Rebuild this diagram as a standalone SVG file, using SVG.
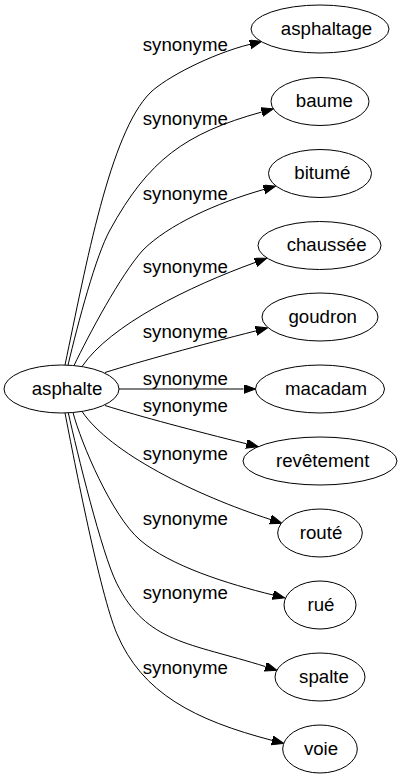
<svg xmlns="http://www.w3.org/2000/svg" width="402" height="779" viewBox="0 0 402 779">
<style>
  .node ellipse { fill: #ffffff; stroke: #000000; stroke-width: 1; }
  .node text { font-family: "Liberation Sans", Arial, sans-serif; font-size: 18.67px; fill: #000000; text-anchor: middle; }
  .edge path { fill: none; stroke: #000000; stroke-width: 1; marker-end: url(#arrow); }
  .edge text { font-family: "Liberation Sans", Arial, sans-serif; font-size: 18.67px; fill: #000000; text-anchor: middle; }
</style>
<defs>
  <marker id="arrow" markerUnits="userSpaceOnUse" markerWidth="13" markerHeight="10" refX="0" refY="4.5" orient="auto">
    <path d="M0,0 L12,4.5 L0,9 Z" fill="#000000" stroke="#000000" stroke-width="1"/>
  </marker>
</defs>
<rect x="0" y="0" width="402" height="779" fill="#ffffff"/>
<g id="connectors">
  <g class="edge" id="e-asphaltage">
    <path d="M65,365 C86,265 110,133 150,93 C165,78 211,54 250,44.3"/>
    <text x="185.3" y="50.5">synonyme</text>
  </g>
  <g class="edge" id="e-baume">
    <path d="M68,365.2 C78,323 96,255 110,230 C148.5,160 184.7,133.4 261.7,112"/>
    <text x="185.3" y="124.5">synonyme</text>
  </g>
  <g class="edge" id="e-bitume">
    <path d="M74,365.5 C88.7,335 120.5,275 143,250 C168,225 216,203 264,189.4"/>
    <text x="185.3" y="199.5">synonyme</text>
  </g>
  <g class="edge" id="e-chaussee">
    <path d="M82,366.6 C110,325 189.6,286.2 255.4,262.4"/>
    <text x="185.3" y="273.3">synonyme</text>
  </g>
  <g class="edge" id="e-goudron">
    <path d="M105,372.5 C140,361.5 200,345 255.9,330.9"/>
    <text x="185.3" y="337.5">synonyme</text>
  </g>
  <g class="edge" id="e-macadam">
    <path d="M119,389 L243.5,389"/>
    <text x="185.3" y="385">synonyme</text>
  </g>
  <g class="edge" id="e-revetement">
    <path d="M105,405.5 C140,416.5 195,431 246.6,443.8"/>
    <text x="185.3" y="411.7">synonyme</text>
  </g>
  <g class="edge" id="e-route">
    <path d="M82,411.4 C110,453 195,495 270.5,519.5"/>
    <text x="185.3" y="460">synonyme</text>
  </g>
  <g class="edge" id="e-rue">
    <path d="M73,412.5 C81,443 112,516 140,540 C170,566 228,584 273,595"/>
    <text x="185.3" y="525">synonyme</text>
  </g>
  <g class="edge" id="e-spalte">
    <path d="M68.3,412.8 C77,452 101.7,553.3 116.7,583.3 C146.7,643.3 189.2,642.6 265.5,666.6"/>
    <text x="185.3" y="599">synonyme</text>
  </g>
  <g class="edge" id="e-voie">
    <path d="M65,413 C74.5,462 99.9,593.3 116.7,633.3 C141.9,693.3 194.8,720.2 272.2,740.4"/>
    <text x="185.3" y="673.5">synonyme</text>
  </g>
</g>
<g class="node" id="n-asphalte">
  <ellipse cx="61.5" cy="389" rx="57.5" ry="24"/>
  <text x="67" y="394.5">asphalte</text>
</g>
<g class="node" id="n-asphaltage">
  <ellipse cx="320" cy="29" rx="69" ry="24"/>
  <text x="326.5" y="34.5">asphaltage</text>
</g>
<g class="node" id="n-baume">
  <ellipse cx="320" cy="101.5" rx="49" ry="24"/>
  <text x="324.3" y="107">baume</text>
</g>
<g class="node" id="n-bitume">
  <ellipse cx="320" cy="173.5" rx="51.5" ry="24"/>
  <text x="322.3" y="179">bitumé</text>
</g>
<g class="node" id="n-chaussee">
  <ellipse cx="319.5" cy="245.5" rx="61.5" ry="24"/>
  <text x="326.6" y="251">chaussée</text>
</g>
<g class="node" id="n-goudron">
  <ellipse cx="320" cy="317" rx="58" ry="24"/>
  <text x="322.7" y="322.5">goudron</text>
</g>
<g class="node" id="n-macadam">
  <ellipse cx="320" cy="389" rx="64.5" ry="24"/>
  <text x="326" y="394.5">macadam</text>
</g>
<g class="node" id="n-revetement">
  <ellipse cx="320" cy="461" rx="77" ry="24"/>
  <text x="322.7" y="466.5">revêtement</text>
</g>
<g class="node" id="n-route">
  <ellipse cx="320" cy="533" rx="42.3" ry="24"/>
  <text x="321" y="538.5">routé</text>
</g>
<g class="node" id="n-rue">
  <ellipse cx="320" cy="605" rx="36" ry="24"/>
  <text x="321" y="610.5">rué</text>
</g>
<g class="node" id="n-spalte">
  <ellipse cx="320" cy="677" rx="45" ry="24"/>
  <text x="324" y="682.5">spalte</text>
</g>
<g class="node" id="n-voie">
  <ellipse cx="320" cy="749" rx="37.3" ry="24"/>
  <text x="321" y="754.5">voie</text>
</g>
</svg>
